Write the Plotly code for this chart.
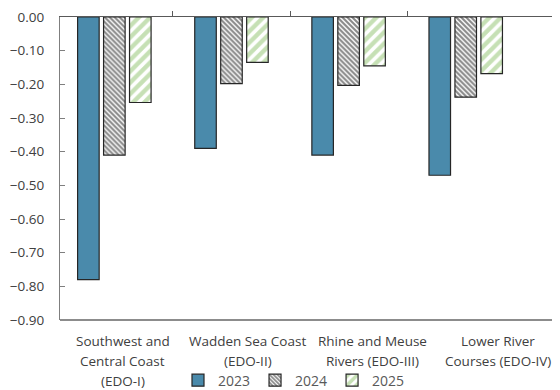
import plotly.graph_objects as go

categories = ["Southwest and<br>Central Coast<br>(EDO-I)",
              "Wadden Sea Coast<br>(EDO-II)",
              "Rhine and Meuse<br>Rivers (EDO-III)",
              "Lower River<br>Courses (EDO-IV)"]
years = ["2023", "2024", "2025"]
v2023 = [-0.78, -0.39, -0.41, -0.47]
v2024 = [-0.41, -0.198, -0.203, -0.238]
v2025 = [-0.254, -0.135, -0.145, -0.168]
y_ticks = [0.0, -0.1, -0.2, -0.3, -0.4, -0.5, -0.6, -0.7, -0.8, -0.9]

FONT = "Open Sans"
xpos = list(range(len(categories)))
border = dict(color="#262626", width=1.2)

fig = go.Figure()
fig.add_trace(go.Bar(x=xpos, y=v2023, name=years[0],
                     marker=dict(color="#4a8aab", line=border)))
fig.add_trace(go.Bar(x=xpos, y=v2024, name=years[1],
                     marker=dict(color="white", line=border,
                                 pattern=dict(shape="\\", fgcolor="#111111", bgcolor="white",
                                              size=3.5, solidity=0.6))))
fig.add_trace(go.Bar(x=xpos, y=v2025, name=years[2],
                     marker=dict(color="white", line=border,
                                 pattern=dict(shape="/", fgcolor="#8dc26b", bgcolor="white",
                                              size=8, solidity=0.55))))

# category labels, one annotation per line for Excel-like line spacing
for i, c in enumerate(categories):
    for j, line in enumerate(c.split("<br>")):
        fig.add_annotation(text=line, x=(i + 0.5) / len(categories), xref="paper",
                           xanchor="center",
                           y=0, yref="paper", yanchor="middle", yshift=-21 - 20 * j,
                           showarrow=False, align="center",
                           font=dict(family=FONT, size=13.5, color="#404040"))

# bottom border line of plot area
fig.add_shape(type="line", xref="paper", yref="paper", x0=0, x1=1, y0=0, y1=0,
              line=dict(color="#8c8c8c", width=2), layer="above")

fig.update_layout(
    width=552, height=382,
    margin=dict(l=52, r=0, t=9, b=70, autoexpand=False),
    paper_bgcolor="white", plot_bgcolor="white",
    barmode="group", bargap=0.335, bargroupgap=0.17,
    showlegend=True,
    legend=dict(orientation="h", x=0.468, xanchor="center", y=-0.2, yanchor="middle",
                font=dict(family=FONT, size=14, color="#595959"),
                itemwidth=30, tracegroupgap=0, bgcolor="rgba(0,0,0,0)"),
    font=dict(family=FONT, color="#404040"),
    xaxis=dict(range=[-0.464, 3.805], side="top", showline=True, linecolor="#595959",
               linewidth=1, tickvals=[0.5, 1.5, 2.5], ticks="outside", ticklen=5,
               tickcolor="#595959", showticklabels=False, showgrid=False, zeroline=False,
               automargin=False, fixedrange=True),
    yaxis=dict(range=[-0.9, 0], tickvals=y_ticks, tickformat=".2f",
               showline=True, linecolor="#7f7f7f", linewidth=1,
               ticks="inside", ticklen=5, tickcolor="#7f7f7f",
               showgrid=False, zeroline=False, ticklabelstandoff=12, automargin=False,
               ticklabeloverflow="allow",
               tickfont=dict(family=FONT, size=13.5, color="#404040")),
)

fig.write_html("out.html")
